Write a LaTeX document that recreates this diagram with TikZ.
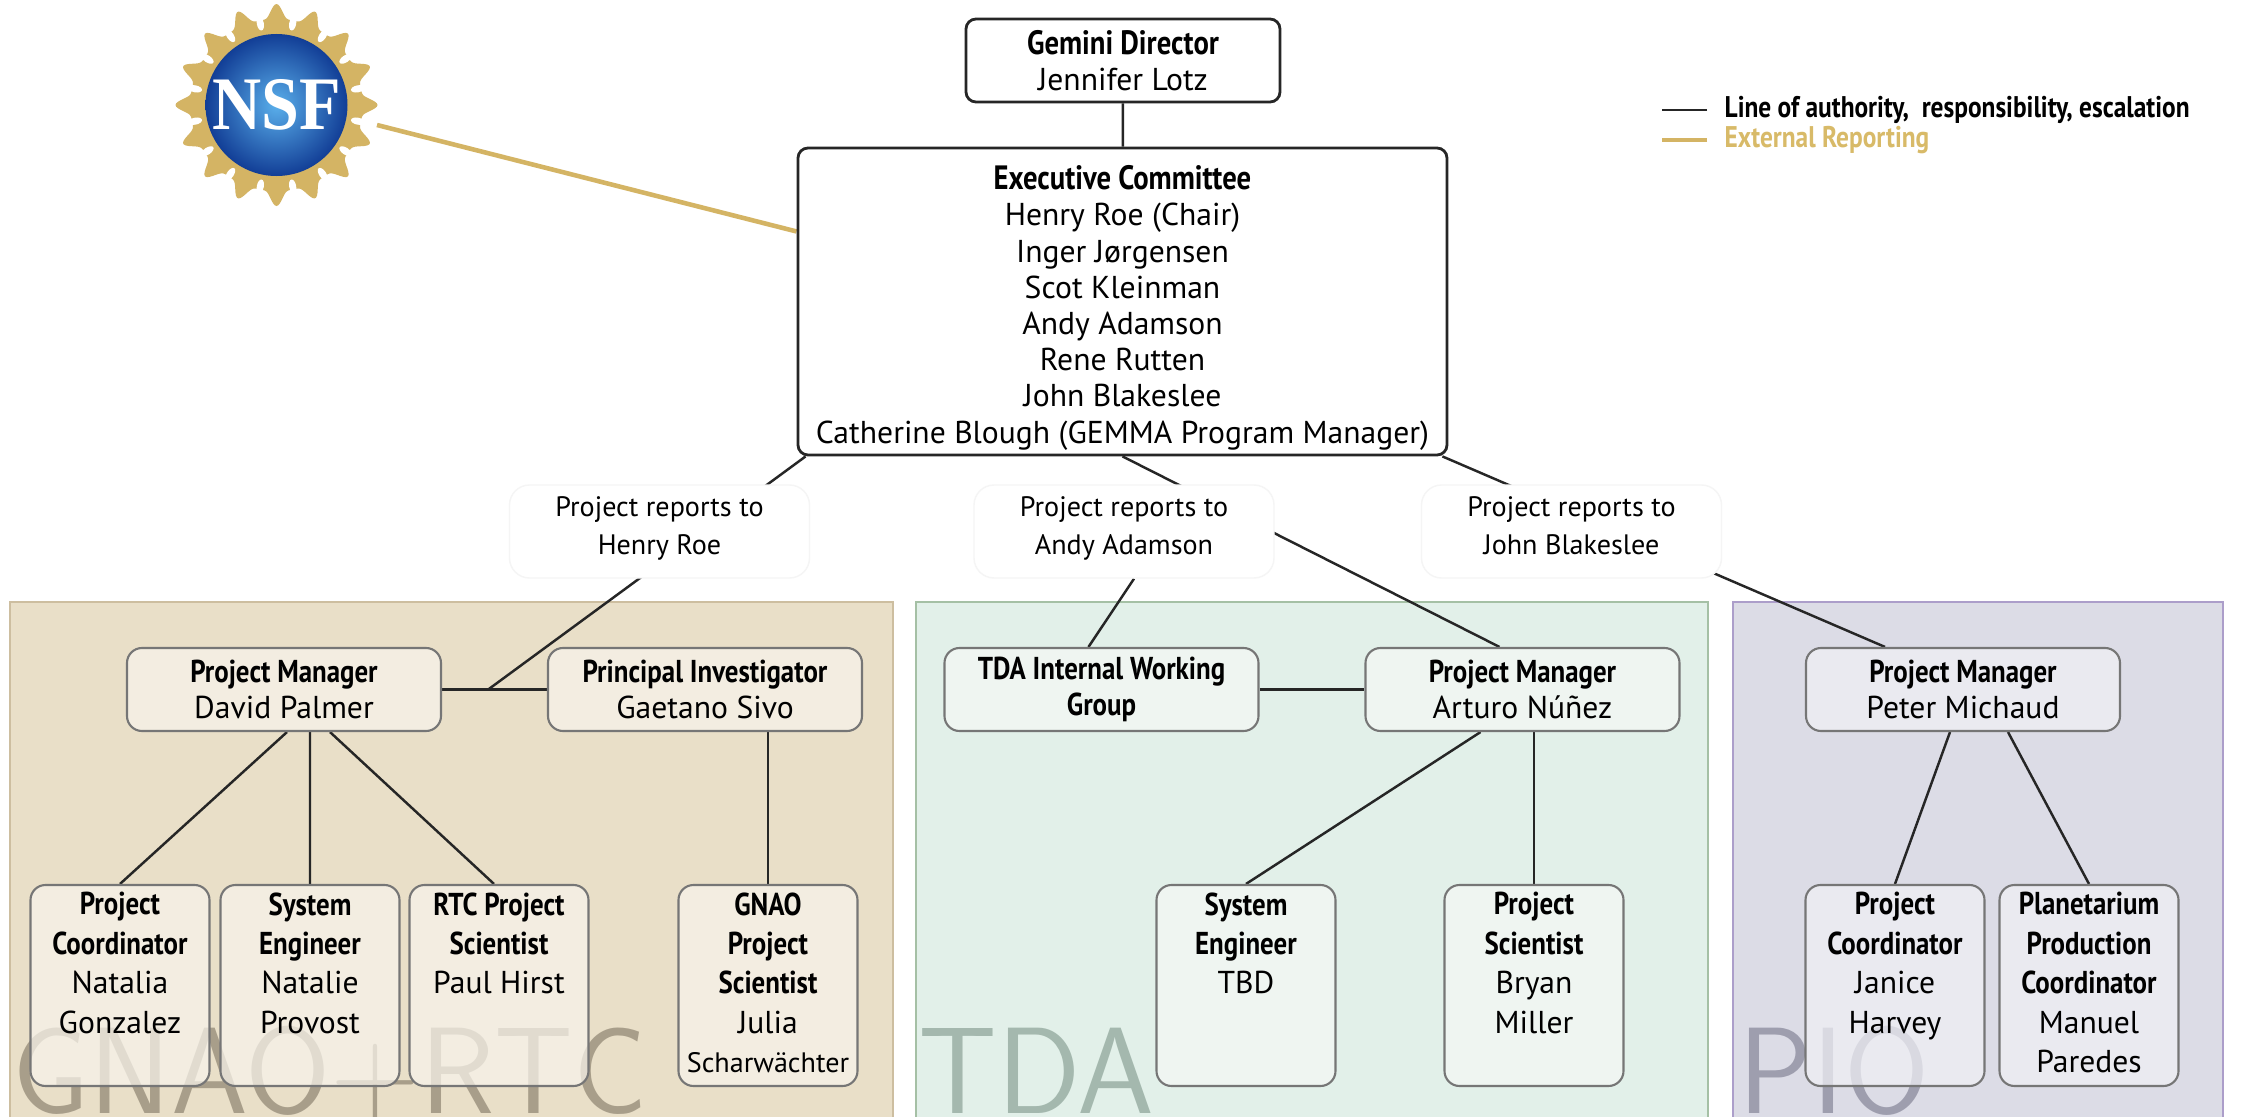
\documentclass[tikz,border=0pt]{standalone}
\usepackage{fontspec}
\setmainfont{PT Sans}[BoldFeatures={FakeStretch=0.85}]
\newfontfamily\nsffont{Liberation Serif}
\usetikzlibrary{positioning,calc}

\definecolor{gnaofill}{RGB}{233,223,200}
\definecolor{gnaoline}{RGB}{205,190,160}
\definecolor{gnaobox}{RGB}{247,243,235}
\definecolor{gnaomark}{RGB}{168,158,138}
\definecolor{tdafill}{RGB}{226,240,233}
\definecolor{tdaline}{RGB}{165,192,165}
\definecolor{tdabox}{RGB}{245,248,245}
\definecolor{tdamark}{RGB}{164,184,174}
\definecolor{piofill}{RGB}{220,220,230}
\definecolor{pioline}{RGB}{172,158,202}
\definecolor{piobox}{RGB}{240,240,245}
\definecolor{piomark}{RGB}{158,158,174}
\definecolor{boxline}{RGB}{118,118,118}
\definecolor{nsfgold}{RGB}{212,180,100}
\definecolor{legendgold}{RGB}{216,186,104}
\definecolor{nsfblue}{RGB}{18,62,150}
\definecolor{nsflight}{RGB}{90,175,235}

\pgfdeclarelayer{background}
\pgfsetlayers{background,main}

\tikzset{
  topbox/.style={draw=black!85, fill=white, line width=0.8pt, rounded corners=0.1cm,
    align=center, inner sep=0pt, font=\fontsize{9}{10.3}\selectfont},
  upbox/.style={draw=boxline, line width=0.6pt, rounded corners=0.15cm, align=center,
    inner sep=0pt, minimum width=3.14cm, minimum height=0.83cm,
    fill opacity=0.72, text opacity=1, font=\fontsize{9}{10.3}\selectfont},
  lowbox/.style={upbox, minimum width=1.79cm, minimum height=2.01cm,
    font=\fontsize{9}{11.2}\selectfont},
  reportbox/.style={draw=black!4, fill=white, rounded corners=0.2cm, align=center,
    inner sep=0pt, minimum width=3.0cm, minimum height=0.93cm,
    font=\fontsize{8}{10.8}\selectfont},
  panel/.style={line width=0.6pt},
  wmark/.style={anchor=base west, inner sep=0pt, font=\sffamily\fontsize{35}{35}\selectfont},
  link/.style={draw=black!85, line width=0.7pt},
  extlink/.style={draw=nsfgold, line width=1.3pt}
}

\newcommand{\lowtext}[2]{\parbox[c][1.86cm][t]{1.74cm}{\centering\textbf{#1}\\#2}}

\begin{document}
\begin{tikzpicture}
\useasboundingbox (0,0) rectangle (22.42,-11.17);

\begin{pgfonlayer}{background}
\fill[white] (0,0) rectangle (22.42,-11.17);
\draw[panel, fill=gnaofill, draw=gnaoline] (0.10,-6.02) rectangle (8.93,-11.4);
\draw[panel, fill=tdafill, draw=tdaline] (9.16,-6.02) rectangle (17.08,-11.4);
\draw[panel, fill=piofill, draw=pioline] (17.33,-6.02) rectangle (22.23,-11.4);
\node[wmark, text=gnaomark] (wgnao) at (0.12,-11.13) {GNAO+RTC};
\node[wmark, text=tdamark] (wtda) at (9.18,-11.13) {TDA};
\node[wmark, text=piomark] (wpio) at (17.38,-11.13) {PIO};
\end{pgfonlayer}

% NSF logo
\begin{scope}[shift={(2.765,-1.05)}]
  \fill[nsfgold] plot[domain=0:359, samples=360, variable=\t]
    ({(0.86+0.15*pow(abs(cos(8*\t)),5))*cos(\t)}, {(0.86+0.15*pow(abs(cos(8*\t)),5))*sin(\t)}) -- cycle;
  \foreach \a in {11.25,33.75,...,348.75}
    \fill[white, rotate around={\a:(0,0)}] (0.83,0) ellipse (0.07 and 0.035);
  \shade[inner color=nsflight, outer color=nsfblue] (0,0) circle (0.71);
  \node[text=white, xscale=0.9, font=\nsffont\bfseries\fontsize{21.5}{21.5}\selectfont] (nsftext) at (0,0) {NSF};
\end{scope}
\coordinate (nsf) at (3.77,-1.25);

% top of the chart
\node[topbox, minimum width=3.14cm, minimum height=0.83cm] (director) at (11.23,-0.605)
  {\fontsize{9.6}{10.3}\selectfont\textbf{Gemini Director}\\Jennifer Lotz};
\node[topbox, minimum width=6.49cm, minimum height=3.07cm] (exec) at (11.225,-3.015)
  {\fontsize{9.6}{10.3}\selectfont\rule{0pt}{10.5pt}\textbf{Executive Committee}\\Henry Roe (Chair)\\Inger Jørgensen\\Scot Kleinman\\Andy Adamson\\Rene Rutten\\John Blakeslee\\Catherine Blough (GEMMA Program Manager)};
\coordinate (nsfend) at ($(exec.south west)!0.726!(exec.north west)$);

\node[reportbox] (lab1) at (6.595,-5.315) {Project reports to\\Henry Roe\strut};
\node[reportbox] (lab2) at (11.24,-5.315) {Project reports to\\Andy Adamson\strut};
\node[reportbox] (lab3) at (15.715,-5.315) {Project reports to\\John Blakeslee\strut};

% GNAO+RTC
\node[upbox, fill=gnaobox] (pmG) at (2.84,-6.895) {\textbf{Project Manager}\\David Palmer};
\node[upbox, fill=gnaobox] (piG) at (7.05,-6.895) {\textbf{Principal Investigator}\\Gaetano Sivo};
\node[lowbox, fill=gnaobox] (pc) at (1.20,-9.855) {\lowtext{Project\\Coordinator}{Natalia\\Gonzalez}};
\node[lowbox, fill=gnaobox] (se) at (3.10,-9.855) {\lowtext{System\\Engineer}{Natalie\\Provost}};
\node[lowbox, fill=gnaobox] (rtc) at (4.99,-9.855) {\lowtext{RTC Project\\Scientist}{Paul Hirst}};
\node[lowbox, fill=gnaobox] (gps) at (7.68,-9.855) {\lowtext{GNAO\\Project\\Scientist}{Julia\\{\fontsize{8}{11.2}\selectfont Scharwächter}}};
\coordinate (jG) at ($(pmG.east)!0.44!(piG.west)$);

% TDA
\node[upbox, fill=tdabox] (iwg) at (11.015,-6.895) {\textbf{TDA Internal Working}\\\textbf{Group}};
\node[upbox, fill=tdabox] (pmT) at (15.225,-6.895) {\textbf{Project Manager}\\Arturo Núñez};
\node[lowbox, fill=tdabox] (seT) at (12.46,-9.855) {\lowtext{System\\Engineer}{TBD}};
\node[lowbox, fill=tdabox] (psT) at (15.34,-9.855) {\lowtext{Project\\Scientist}{Bryan\\Miller}};

% PIO
\node[upbox, fill=piobox] (pmP) at (19.63,-6.895) {\textbf{Project Manager}\\Peter Michaud};
\node[lowbox, fill=piobox] (pcP) at (18.95,-9.855) {\lowtext{Project\\Coordinator}{Janice\\Harvey}};
\node[lowbox, fill=piobox] (ppc) at (20.89,-9.855) {\lowtext{Planetarium\\Production\\Coordinator}{Manuel\\Paredes}};

% legend
\node[anchor=west, inner sep=0pt, font=\fontsize{8.5}{10}\selectfont\bfseries] (legA) at (17.24,-1.10) {Line of authority,~ responsibility, escalation};
\node[anchor=west, inner sep=0pt, font=\fontsize{8.5}{10}\selectfont\bfseries, text=legendgold] (legB) at (17.24,-1.40) {External Reporting};
\draw[link] ($(legA.west)+(-0.17,0)$) -- ++(-0.45,0);
\draw[extlink] ($(legB.west)+(-0.17,0)$) -- ++(-0.45,0);

\begin{pgfonlayer}{background}
\draw[link] (director) -- (exec);
\draw[link] ($(exec.south west)+(0.09,0)$) -- (jG);
\draw[link] (exec.south) -- ($(pmT.north)+(-0.23,0)$);
\draw[link] ($(exec.south east)+(-0.06,0)$) -- ($(pmP.north)+(-0.78,0)$);
\draw[link] ($(lab2.south)+(0.10,0)$) -- ($(iwg.north)+(-0.13,0)$);
\draw[link] (pmG) -- (piG);
\draw[link] (iwg) -- (pmT);
\draw[link] ($(pmG.south)+(0.03,0)$) -- (pc.north);
\draw[link] ($(pmG.south)+(0.26,0)$) -- (se.north);
\draw[link] ($(pmG.south)+(0.46,0)$) -- ($(rtc.north)+(-0.05,0)$);
\draw[link] (gps.north |- piG.south) -- (gps.north);
\draw[link] ($(pmT.south)+(-0.42,0)$) -- (seT.north);
\draw[link] (psT.north |- pmT.south) -- (psT.north);
\draw[link] ($(pmP.south)+(-0.13,0)$) -- (pcP.north);
\draw[link] ($(pmP.south)+(0.45,0)$) -- (ppc.north);
\draw[extlink] (nsf) -- (nsfend);
\end{pgfonlayer}
\end{tikzpicture}
\end{document}
